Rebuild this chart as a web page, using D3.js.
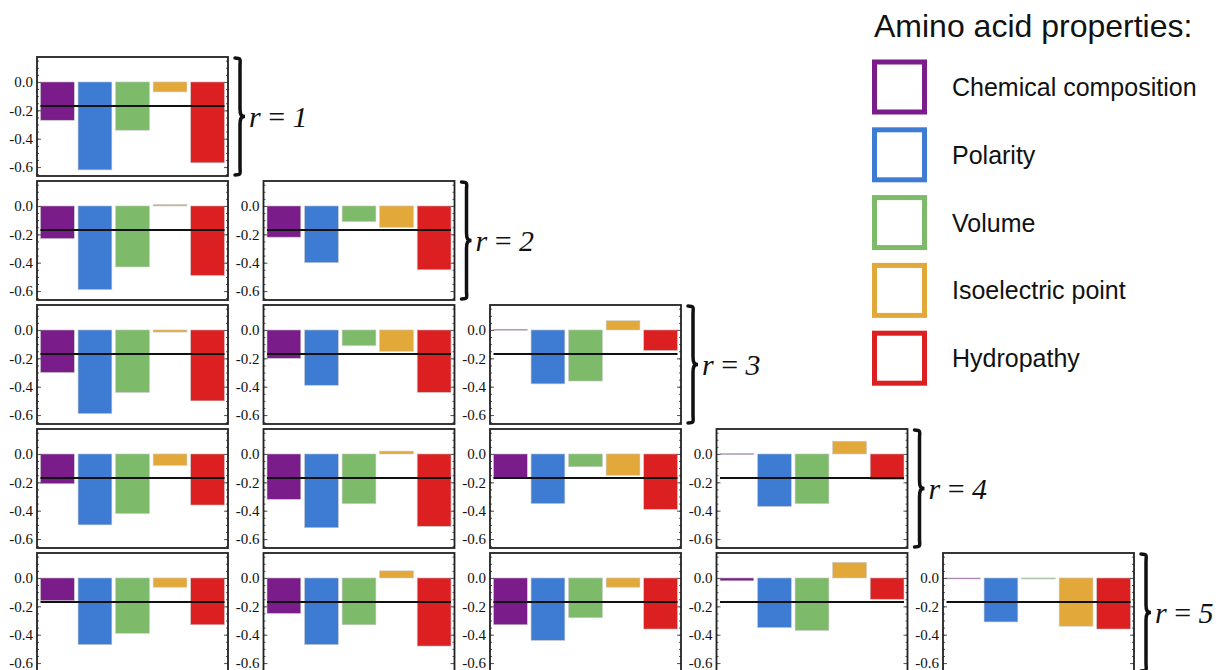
<!DOCTYPE html>
<html>
<head>
<meta charset="utf-8">
<script src="https://cdn.jsdelivr.net/npm/d3@7"></script>
<style>
  body { margin: 0; background: #fff; }
  svg { display: block; }
</style>
</head>
<body>
<div id="chart"></div>
<script>
// Data
const properties = ["Chemical composition", "Polarity", "Volume", "Isoelectric point", "Hydropathy"];
const colors = ["#7a1c8a", "#3e7cd4", "#7dbb6a", "#e2a83a", "#dc1f20"];
const rLabels = ["1", "2", "3", "4", "5"];

// one array of panels per row, each panel = values in property order
const row1 = [[-0.27, -0.62, -0.34, -0.07, -0.57]];
const row2 = [[-0.23, -0.59, -0.43, 0.01, -0.49],
              [-0.22, -0.40, -0.11, -0.15, -0.45]];
const row3 = [[-0.30, -0.59, -0.44, -0.015, -0.50],
              [-0.20, -0.39, -0.11, -0.15, -0.44],
              [0.005, -0.38, -0.36, 0.065, -0.145]];
const row4 = [[-0.21, -0.50, -0.42, -0.08, -0.36],
              [-0.32, -0.52, -0.35, 0.02, -0.51],
              [-0.17, -0.35, -0.09, -0.15, -0.39],
              [0.003, -0.37, -0.35, 0.09, -0.18]];
const row5 = [[-0.16, -0.47, -0.39, -0.065, -0.33],
              [-0.25, -0.47, -0.33, 0.05, -0.48],
              [-0.33, -0.44, -0.28, -0.065, -0.36],
              [-0.02, -0.35, -0.37, 0.11, -0.15],
              [-0.002, -0.31, -0.004, -0.34, -0.36]];
const rows = [row1, row2, row3, row4, row5];

const meanLevel = -0.17;
const yTicks = [0, -0.2, -0.4, -0.6];
const yMinor = d3.range(-0.65, 0.16, 0.05);

// Layout
const panelW = 191, panelH = 119;
const colStep = 226.5, rowStep = 124;
const left0 = 37, top0 = 57;

const svg = d3.select("#chart")
  .append("svg")
    .attr("width", 1221)
    .attr("height", 670);

const x = d3.scaleBand()
  .domain(d3.range(properties.length))
  .range([3.5, panelW - 3.5])
  .paddingInner(0.1);

const y = d3.scaleLinear()
  .domain([-0.663, 0.176])
  .range([panelH, 0]);

rows.forEach((panels, i) => {
  panels.forEach((vals, j) => {
    const g = svg.append("g")
      .attr("transform", `translate(${left0 + colStep * j},${top0 + rowStep * i})`);

    // bars
    g.selectAll("rect.bar")
      .data(vals)
      .enter().append("rect")
        .attr("class", "bar")
        .attr("x", (d, k) => x(k))
        .attr("y", d => y(Math.max(0, d)))
        .attr("width", x.bandwidth())
        .attr("height", d => Math.max(1, Math.abs(y(d) - y(0))))
        .attr("fill", (d, k) => colors[k])
        .attr("stroke", "#c8c8c8")
        .attr("stroke-width", 0.6);

    // reference line
    g.append("line")
      .attr("x1", x(0)).attr("x2", x(properties.length - 1) + x.bandwidth())
      .attr("y1", y(meanLevel)).attr("y2", y(meanLevel))
      .attr("stroke", "#111")
      .attr("stroke-width", 2);

    // frame ticks (inward, both sides)
    const fmt = d => d.toFixed(1);
    g.append("g")
      .call(d3.axisLeft(y).tickValues(yTicks).tickSize(-4).tickPadding(4).tickFormat(fmt))
      .call(a => a.select(".domain").remove())
      .call(a => a.selectAll("text")
        .attr("font-family", "'Liberation Serif', 'Times New Roman', serif")
        .attr("font-size", 15)
        .attr("fill", "#111"));
    g.append("g")
      .call(d3.axisLeft(y).tickValues(yMinor).tickSize(-2).tickFormat(""))
      .call(a => a.select(".domain").remove());
    g.append("g")
      .attr("transform", `translate(${panelW},0)`)
      .call(d3.axisRight(y).tickValues(yTicks).tickSize(-4).tickFormat(""))
      .call(a => a.select(".domain").remove());
    g.append("g")
      .attr("transform", `translate(${panelW},0)`)
      .call(d3.axisRight(y).tickValues(yMinor).tickSize(-2).tickFormat(""))
      .call(a => a.select(".domain").remove());
    g.selectAll(".tick line").attr("stroke", "#555");

    // frame
    g.append("rect")
      .attr("width", panelW)
      .attr("height", panelH)
      .attr("fill", "none")
      .attr("stroke", "#222")
      .attr("stroke-width", 1.8);

    // brace + r label after the last panel in the row
    if (j === panels.length - 1) {
      const bx = panelW + 7, bw = 10;
      const y0 = 1, y1 = panelH - 1, ym = panelH / 2, q = 8;
      const h = bw / 2;
      const brace = `M${bx},${y0} C${bx + h + 2},${y0} ${bx + h},${y0 + 2} ${bx + h},${y0 + q}
        L${bx + h},${ym - q} C${bx + h},${ym - 2} ${bx + h + 1},${ym} ${bx + bw},${ym}
        C${bx + h + 1},${ym} ${bx + h},${ym + 2} ${bx + h},${ym + q}
        L${bx + h},${y1 - q} C${bx + h},${y1 - 2} ${bx + h + 2},${y1} ${bx},${y1}`;
      g.append("path")
        .attr("d", brace)
        .attr("fill", "none")
        .attr("stroke", "#111")
        .attr("stroke-width", 3.5)
        .attr("stroke-linecap", "round");

      const t = g.append("text")
        .attr("x", bx + bw + 4)
        .attr("y", ym + 10)
        .attr("font-family", "'Liberation Serif', 'Times New Roman', serif")
        .attr("font-size", 30)
        .attr("fill", "#111");
      t.append("tspan").attr("font-style", "italic").text("r");
      t.append("tspan").text(" = ");
      t.append("tspan").attr("font-style", "italic").text(rLabels[i]);
    }
  });
});

// Legend
const legend = svg.append("g").attr("transform", "translate(872,0)");
legend.append("text")
  .attr("x", 2).attr("y", 37)
  .attr("font-family", "'Liberation Sans', Arial, sans-serif")
  .attr("font-size", 32)
  .attr("fill", "#111")
  .text("Amino acid properties:");

const items = legend.selectAll("g.item")
  .data(properties)
  .enter().append("g")
    .attr("class", "item")
    .attr("transform", (d, k) => `translate(0,${87 + 67.8 * k})`);

items.append("rect")
  .attr("x", 2.5).attr("y", -25)
  .attr("width", 50).attr("height", 50)
  .attr("fill", "none")
  .attr("stroke", (d, k) => colors[k])
  .attr("stroke-width", 5);

items.append("text")
  .attr("x", 80).attr("y", 9)
  .attr("font-family", "'Liberation Sans', Arial, sans-serif")
  .attr("font-size", 25)
  .attr("fill", "#111")
  .text(d => d);
</script>
</body>
</html>
